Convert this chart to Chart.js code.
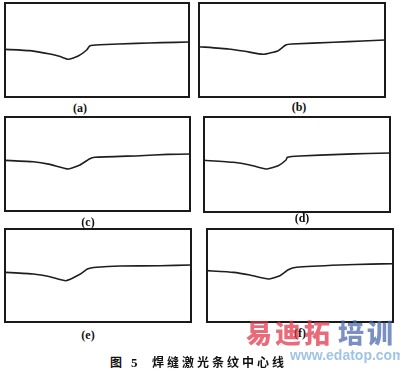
<!DOCTYPE html>
<html><head><meta charset="utf-8">
<script src="https://cdn.jsdelivr.net/npm/chart.js@4/dist/chart.umd.min.js"></script>
<style>
html,body{margin:0;padding:0;background:#fff;}
#root{position:relative;width:400px;height:371px;overflow:hidden;background:#fff;}
.frame{position:absolute;border:2px solid #1a1a1a;box-sizing:border-box;}
.cv{position:absolute;z-index:2;}
.lab{position:absolute;font-family:"Liberation Serif","DejaVu Serif",serif;font-weight:bold;font-size:12px;color:#111;transform:translate(-50%,-50%);white-space:nowrap;z-index:3;}
.cap{position:absolute;font-family:"Noto Sans CJK SC",sans-serif;font-weight:700;font-size:12px;color:#111;white-space:nowrap;line-height:1;z-index:3;}
.wm{position:absolute;font-family:"Noto Sans CJK SC",sans-serif;font-weight:900;white-space:nowrap;line-height:1;z-index:4;}
</style></head>
<body><div id="root"></div>
<script>
// ---- data (x: 0..100 across panel, y: 0..100 bottom to top) ----
const panelLabels = ['(a)','(b)','(c)','(d)','(e)','(f)'];
const xA = [0, 13.6, 24.5, 30, 34.4, 39.8, 44.4, 46.2, 51.6, 71.6, 85, 100];
const yA = [50.7, 49.3, 45.7, 43.0, 40.1, 43.6, 50.0, 54.6, 55.6, 57.1, 57.8, 58.5];
const xB = [0, 15.8, 24.7, 34.6, 42.6, 46.6, 49.8, 72.6, 88, 100];
const yB = [53.5, 51.1, 48.6, 45.4, 49.3, 55.3, 56.4, 58.2, 59.6, 60.6];
const xC = [0, 15.3, 24.3, 34.2, 40.5, 45.6, 48.6, 73, 88, 100];
const yC = [53.9, 52.4, 49.6, 44.7, 48.9, 55.3, 57.1, 58.8, 60.2, 60.6];
const xD = [0, 15.8, 24.7, 33.3, 39.9, 44.1, 44.8, 51.6, 73.1, 88, 100];
const yD = [54.4, 52.3, 49.5, 45.3, 48.7, 54.7, 57.6, 58.9, 60.7, 61.6, 62.1];
const xE = [0, 15.2, 24.2, 32.8, 40.3, 44.3, 49.3, 61.8, 83.3, 100];
const yE = [53.4, 51.6, 48.7, 44.4, 51.3, 57.0, 58.8, 60.2, 60.5, 61.3];
const xF = [0, 14.2, 23.1, 33, 39.2, 43.7, 48.2, 71.5, 88, 100];
const yF = [55.2, 53.4, 50.5, 46.2, 49.8, 56.2, 58.8, 61.3, 62.2, 62.7];
const seriesX = [xA, xB, xC, xD, xE, xF];
const seriesY = [yA, yB, yC, yD, yE, yF];

// ---- layout (line-centre box positions, label centres) ----
const boxes = [
  {l:5, t:3, r:189, b:97, lx:80, ly:108},
  {l:199, t:3, r:385, b:97, lx:299, ly:107},
  {l:5, t:117, r:190, b:211, lx:88, ly:222},
  {l:204, t:117, r:390, b:212, lx:302, ly:218},
  {l:5, t:229, r:191, b:322, lx:88, ly:335},
  {l:207, t:229, r:393, b:322, lx:300, ly:333}
];

const root = document.getElementById('root');
boxes.forEach((bx, i) => {
  const w = bx.r - bx.l, h = bx.b - bx.t;
  const fr = document.createElement('div');
  fr.className = 'frame';
  fr.style.left = (bx.l - 1) + 'px'; fr.style.top = (bx.t - 1) + 'px';
  fr.style.width = (w + 2) + 'px'; fr.style.height = (h + 2) + 'px';
  root.appendChild(fr);
  const cv = document.createElement('canvas');
  cv.className = 'cv';
  cv.width = w; cv.height = h;
  cv.style.left = bx.l + 'px'; cv.style.top = bx.t + 'px';
  cv.style.width = w + 'px'; cv.style.height = h + 'px';
  root.appendChild(cv);
  const lab = document.createElement('div');
  lab.className = 'lab';
  lab.textContent = panelLabels[i];
  lab.style.left = bx.lx + 'px'; lab.style.top = bx.ly + 'px';
  root.appendChild(lab);
  const pts = seriesX[i].map((x, k) => ({x: x, y: seriesY[i][k]}));
  new Chart(cv, {
    type: 'line',
    data: {datasets: [{data: pts, borderColor: '#1e1e1e', borderWidth: 1.6, pointRadius: 0, tension: 0.15, fill: false}]},
    options: {
      responsive: false, animation: false, maintainAspectRatio: false,
      layout: {padding: 0},
      plugins: {legend: {display: false}, tooltip: {enabled: false}},
      scales: {
        x: {type: 'linear', min: 0, max: 100, display: false},
        y: {type: 'linear', min: 0, max: 100, display: false}
      }
    }
  });
});

function addText(cls, txt, x, y, extra) {
  const d = document.createElement('div');
  d.className = cls; d.textContent = txt;
  d.style.left = x + 'px'; d.style.top = y + 'px';
  Object.assign(d.style, extra || {});
  root.appendChild(d);
}
addText('cap', '图', 110, 356);
addText('cap', '5', 131, 356, {fontFamily: '"Liberation Serif",serif', fontSize: '13px'});
addText('cap', '焊缝激光条纹中心线', 152, 356, {letterSpacing: '3px'});
// watermark
addText('wm', '易迪拓', 246, 319, {fontSize: '26px', color: 'rgba(225,50,70,0.72)', letterSpacing: '3px'});
addText('wm', '培训', 338, 319, {fontSize: '26px', color: 'rgba(70,100,170,0.72)', letterSpacing: '3px'});
addText('wm', 'www.edatop.com', 290, 348, {fontFamily: '"Liberation Sans",Arial,sans-serif', fontWeight: 'bold', fontSize: '14px', color: 'rgba(120,170,220,0.7)'});
</script></body></html>
